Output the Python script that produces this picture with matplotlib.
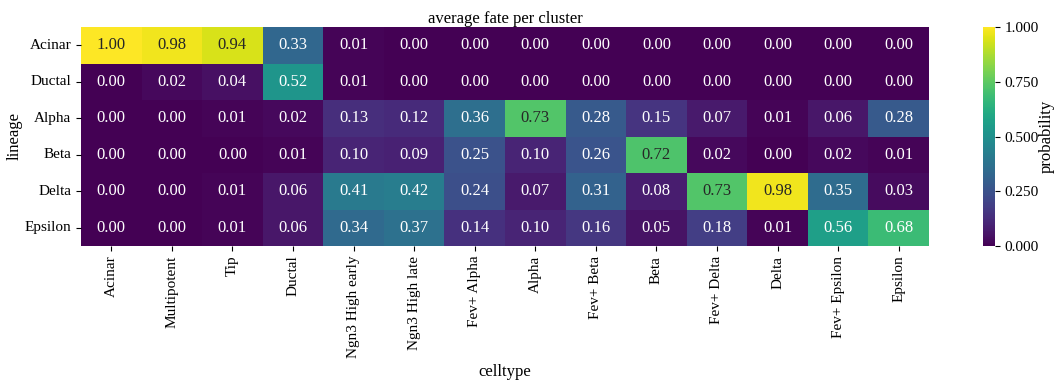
import numpy as np
import pandas as pd
import matplotlib
matplotlib.use("Agg")
import matplotlib.pyplot as plt
import seaborn as sns

plt.rcParams['font.family'] = ['Liberation Serif', 'DejaVu Serif']
plt.rcParams['font.size'] = 12

celltypes = ['Acinar', 'Multipotent', 'Tip', 'Ductal', 'Ngn3 High early',
             'Ngn3 High late', 'Fev+ Alpha', 'Alpha', 'Fev+ Beta', 'Beta',
             'Fev+ Delta', 'Delta', 'Fev+ Epsilon', 'Epsilon']
lineages = ['Acinar', 'Ductal', 'Alpha', 'Beta', 'Delta', 'Epsilon']

acinar = [1.00, 0.98, 0.94, 0.33, 0.01, 0.00, 0.00, 0.00, 0.00, 0.00, 0.00, 0.00, 0.00, 0.00]
ductal = [0.00, 0.02, 0.04, 0.52, 0.01, 0.00, 0.00, 0.00, 0.00, 0.00, 0.00, 0.00, 0.00, 0.00]
alpha = [0.00, 0.00, 0.01, 0.02, 0.13, 0.12, 0.36, 0.73, 0.28, 0.15, 0.07, 0.01, 0.06, 0.28]
beta = [0.00, 0.00, 0.00, 0.01, 0.10, 0.09, 0.25, 0.10, 0.26, 0.72, 0.02, 0.00, 0.02, 0.01]
delta = [0.00, 0.00, 0.01, 0.06, 0.41, 0.42, 0.24, 0.07, 0.31, 0.08, 0.73, 0.98, 0.35, 0.03]
epsilon = [0.00, 0.00, 0.01, 0.06, 0.34, 0.37, 0.14, 0.10, 0.16, 0.05, 0.18, 0.01, 0.56, 0.68]

df = pd.DataFrame([acinar, ductal, alpha, beta, delta, epsilon],
                  index=lineages, columns=celltypes)

fig = plt.figure(figsize=(10.56, 3.83), dpi=100)
ax = fig.add_axes([81 / 1056, 1 - 246 / 383, (929 - 81) / 1056, (246 - 27) / 383])
cax = fig.add_axes([983 / 1056, 1 - 246 / 383, 12 / 1056, (246 - 27) / 383])

sns.heatmap(df, ax=ax, cbar_ax=cax, cmap='viridis', vmin=0, vmax=1,
            annot=True, fmt='.2f', annot_kws={'size': 12},
            cbar_kws={'format': '%.3f', 'ticks': [0, 0.25, 0.5, 0.75, 1.0]})

ax.set_title('average fate per cluster', fontsize=12, pad=3)
ax.set_xlabel('celltype', fontsize=12)
ax.set_ylabel('lineage', fontsize=12, labelpad=1)
ax.set_xticklabels(celltypes, rotation=90, fontsize=11)
ax.set_yticklabels(lineages, rotation=0, fontsize=11)
cax.set_ylabel('probability', fontsize=12, labelpad=0)
cax.tick_params(labelsize=11)

fig.savefig('out.png', dpi=100)
